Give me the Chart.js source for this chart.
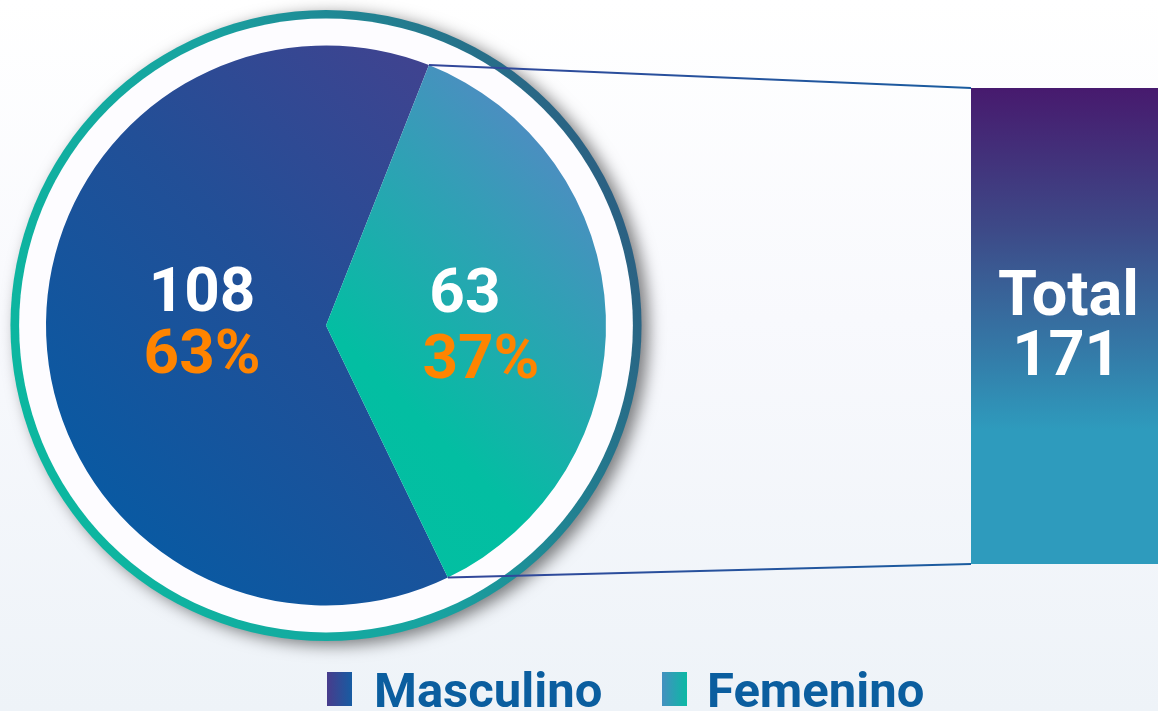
<!DOCTYPE html>
<html>
<head>
<meta charset="utf-8">
<script src="https://cdn.jsdelivr.net/npm/chart.js@4.4.1/dist/chart.umd.min.js"></script>
<style>
html,body{margin:0;padding:0;width:1158px;height:711px;overflow:hidden;}
body{position:relative;background:linear-gradient(180deg,#ffffff 0%,#f8f9fd 45%,#eef3f8 100%);font-family:Roboto,"Noto Sans",sans-serif;}
#pieWrap{position:absolute;left:0;top:0;width:1158px;height:711px;}
#barWrap{position:absolute;left:971px;top:88px;width:187px;height:476px;}
.lg-box{position:absolute;top:672px;width:25px;height:34px;}
.lg-text{position:absolute;top:666px;font-weight:700;font-size:49px;line-height:49px;color:#0b5e9f;white-space:nowrap;}
</style>
</head>
<body>
<div id="pieWrap"><canvas id="pie"></canvas></div>
<div id="barWrap"><canvas id="bar"></canvas></div>
<div id="legend"></div>
<script>
// ---- data ----
const categories = ['Masculino', 'Femenino'];
const counts = [108, 63];
const totalCategories = ['Total'];
const totalValues = [171];

// ---- styles ----
const mascStops = [[0,'#005ea7'],[0.5,'#224f97'],[0.85,'#42428f'],[1,'#48408e']];
const femStops  = [[0,'#00c3a0'],[0.5,'#03bea2'],[0.85,'#4a8fc0'],[1,'#4f89bf']];
const legendGradients = [
  'linear-gradient(90deg,#483c8c,#175ca2)',
  'linear-gradient(90deg,#4490c0,#0bb9a4)'
];

function pieGrad(ctx, stops){
  const chart = ctx.chart, a = chart.chartArea;
  if(!a) return stops[0][1];
  const cx=(a.left+a.right)/2, cy=(a.top+a.bottom)/2, r=Math.min(a.right-a.left,a.bottom-a.top)/2;
  const g = chart.ctx.createLinearGradient(cx-r, cy+r, cx+r, cy-r);
  stops.forEach(s=>g.addColorStop(s[0],s[1]));
  return g;
}

// ---- total bar chart ----
const totalChart = new Chart(document.getElementById('bar'), {
  type:'bar',
  data:{labels:totalCategories, datasets:[{
    data:totalValues,
    borderWidth:0,
    barPercentage:1, categoryPercentage:1,
    backgroundColor:(ctx)=>{
      const a = ctx.chart.chartArea; if(!a) return '#2e9bbd';
      const g = ctx.chart.ctx.createLinearGradient(0,a.top,0,a.bottom);
      g.addColorStop(0,'#471a6e'); g.addColorStop(0.3,'#3d4a88');
      g.addColorStop(0.55,'#3479a7'); g.addColorStop(0.72,'#2e9bbd'); g.addColorStop(1,'#2e9bbd');
      return g;
    }
  }]},
  options:{
    responsive:true, maintainAspectRatio:false, animation:false,
    layout:{padding:0},
    scales:{x:{display:false}, y:{display:false, min:0, max:totalValues[0]}},
    plugins:{legend:{display:false}, tooltip:{enabled:false}}
  },
  plugins:[{
    id:'totalText',
    afterDatasetsDraw(chart){
      const el = chart.getDatasetMeta(0).data[0]; const c = chart.ctx;
      const cy = (el.y+el.base)/2;
      c.save(); c.fillStyle='#ffffff'; c.textAlign='center'; c.textBaseline='alphabetic';
      c.font='bold 63px Roboto';
      c.fillText(chart.data.labels[0], el.x+4, cy-11);
      c.fillText(String(chart.data.datasets[0].data[0]), el.x+2, cy+49);
      c.restore();
    }
  }]
});
window.totalChart = totalChart;

// ---- pie plugins ----
const ringPlugin = {
  id:'ring',
  beforeDatasetsDraw(chart){
    const el = chart.getDatasetMeta(0).data[0]; if(!el) return;
    const x=el.x, y=el.y, r=el.outerRadius, c=chart.ctx;
    const rOut=r*1.127, rIn=r*1.096;
    c.save();
    c.shadowColor='rgba(0,0,0,0.5)'; c.shadowBlur=16; c.shadowOffsetX=7; c.shadowOffsetY=4;
    const g=c.createLinearGradient(x-rOut, y+rOut*0.4, x+rOut, y-rOut*0.4);
    g.addColorStop(0,'#0bb9a0'); g.addColorStop(0.5,'#18a2a0'); g.addColorStop(1,'#2c5b80');
    c.beginPath(); c.arc(x,y,rOut,0,Math.PI*2); c.fillStyle=g; c.fill();
    c.shadowColor='transparent'; c.shadowBlur=0; c.shadowOffsetX=0; c.shadowOffsetY=0;
    c.beginPath(); c.arc(x,y,rIn,0,Math.PI*2); c.fillStyle='#fdfcff'; c.fill();
    c.restore();
  }
};

const sliceLabels = {
  id:'sliceLabels',
  afterDatasetsDraw(chart, args, opts){
    const meta=chart.getDatasetMeta(0), c=chart.ctx;
    const data=chart.data.datasets[0].data, total=data.reduce((a,b)=>a+b,0);
    meta.data.forEach((arc,i)=>{
      const mid=(arc.startAngle+arc.endAngle)/2;
      const ax=arc.x+Math.cos(mid)*arc.outerRadius*opts.radial[i];
      const ay=arc.y+Math.sin(mid)*arc.outerRadius*opts.radial[i];
      c.save(); c.textAlign='center'; c.textBaseline='alphabetic';
      c.font='bold 62px Roboto';
      c.fillStyle='#ffffff';
      c.fillText(String(data[i]), ax+opts.dx1[i], ay+opts.dy1[i]);
      c.fillStyle='#ff8400';
      c.fillText(Math.round(data[i]/total*100)+'%', ax+opts.dx2[i], ay+opts.dy2[i]);
      c.restore();
    });
  }
};

const connectorPlugin = {
  id:'connector',
  afterDraw(chart){
    const bc=window.totalChart; if(!bc) return;
    const bar=bc.getDatasetMeta(0).data[0];
    const ob=bc.canvas.getBoundingClientRect(), op=chart.canvas.getBoundingClientRect();
    const left=ob.left-op.left+bar.x-bar.width/2;
    const top=ob.top-op.top+Math.min(bar.y,bar.base);
    const bottom=ob.top-op.top+Math.max(bar.y,bar.base);
    const arc=chart.getDatasetMeta(0).data[1];
    const p1=[arc.x+Math.cos(arc.startAngle)*arc.outerRadius, arc.y+Math.sin(arc.startAngle)*arc.outerRadius];
    const p2=[arc.x+Math.cos(arc.endAngle)*arc.outerRadius, arc.y+Math.sin(arc.endAngle)*arc.outerRadius];
    const c=chart.ctx;
    c.save(); c.lineWidth=2;
    [[p1,top],[p2,bottom]].forEach(([p,ty])=>{
      const g=c.createLinearGradient(p[0],0,left,0);
      g.addColorStop(0,'#33469a'); g.addColorStop(1,'#1a5c9f');
      c.strokeStyle=g;
      c.beginPath(); c.moveTo(p[0],p[1]); c.lineTo(left,ty); c.stroke();
    });
    c.restore();
  }
};

// ---- pie chart ----
new Chart(document.getElementById('pie'), {
  type:'pie',
  data:{labels:categories, datasets:[{
    data:counts,
    borderWidth:0,
    backgroundColor:(ctx)=> pieGrad(ctx, ctx.dataIndex===0 ? mascStops : femStops)
  }]},
  options:{
    responsive:true, maintainAspectRatio:false, animation:false,
    rotation:-205.8,
    layout:{padding:{left:46, top:45, right:552, bottom:105}},
    plugins:{
      legend:{display:false}, tooltip:{enabled:false},
      sliceLabels:{radial:[0.443,0.525], dx1:[0,-8], dy1:[-19,-8], dx2:[0,8], dy2:[43,58]}
    }
  },
  plugins:[ringPlugin, sliceLabels, connectorPlugin]
});

// ---- legend ----
const legendPos = [{box:327, text:374},{box:662, text:707}];
const lg = document.getElementById('legend');
categories.forEach((name,i)=>{
  const b=document.createElement('div'); b.className='lg-box';
  b.style.left=legendPos[i].box+'px'; b.style.background=legendGradients[i];
  const t=document.createElement('div'); t.className='lg-text';
  t.style.left=legendPos[i].text+'px'; t.textContent=name;
  lg.appendChild(b); lg.appendChild(t);
});
</script>
</body>
</html>
